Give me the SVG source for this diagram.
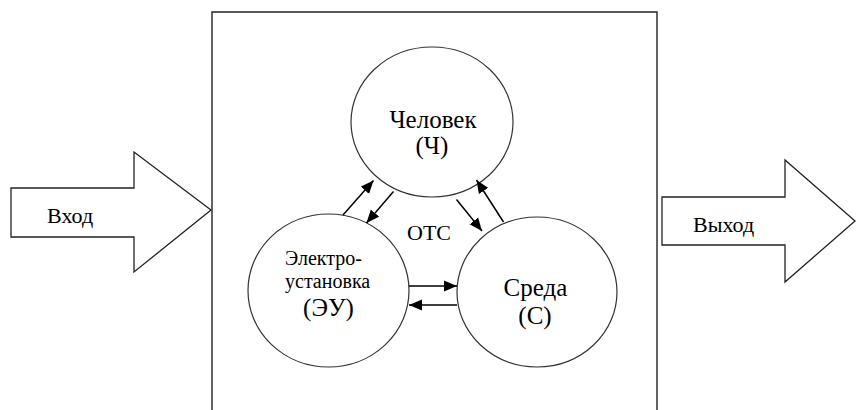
<svg xmlns="http://www.w3.org/2000/svg" width="856" height="410" viewBox="0 0 856 410">
  <style>
    .frame { fill: none; stroke: #222; stroke-width: 1.4; }
    .block { fill: #fff; stroke: #222; stroke-width: 1.3; stroke-linejoin: miter; }
    .node { fill: #fff; stroke: #333; stroke-width: 1.2; }
    .link { fill: none; stroke: #000; stroke-width: 1.5; marker-end: url(#head); }
    text { font-family: 'Liberation Serif', 'Times New Roman', serif; font-size: 22px; fill: #000; }
    .small { font-size: 20px; }
    .big { font-size: 25px; }
    .mid { text-anchor: middle; }
  </style>
  <defs>
    <marker id="head" markerUnits="userSpaceOnUse" markerWidth="14" markerHeight="12" refX="13" refY="6" orient="auto">
      <path d="M0,0.5 L13,6 L0,11.5 Z" fill="#000"/>
    </marker>
  </defs>

  <rect width="856" height="410" fill="#fff"/>

  <!-- system boundary (open at the bottom) -->
  <path id="system" class="frame" d="M212,412 V12 H657 V412"/>

  <!-- input block arrow -->
  <g id="input">
    <polygon class="block" points="11,188 134,188 134,152 211,210 134,272 134,237 11,237"/>
    <text x="47" y="223">Вход</text>
  </g>

  <!-- output block arrow -->
  <g id="output">
    <polygon class="block" points="662,197 785,197 785,160 855,221 785,282 785,245 662,245"/>
    <text x="693" y="232">Выход</text>
  </g>

  <g id="human">
    <ellipse class="node" cx="432" cy="122" rx="81" ry="75"/>
    <text class="mid big" x="433" y="128">Человек</text>
    <text class="mid big" x="432" y="154">(Ч)</text>
  </g>

  <g id="installation">
    <ellipse class="node" cx="328.5" cy="290.5" rx="80.5" ry="76.5"/>
    <text class="small" x="285" y="265">Электро-</text>
    <text class="small" x="285" y="288">установка</text>
    <text class="mid big" x="328.5" y="316">(ЭУ)</text>
  </g>

  <g id="environment">
    <ellipse class="node" cx="537" cy="292" rx="80" ry="75"/>
    <text class="mid big" x="535.5" y="296">Среда</text>
    <text class="mid big" x="535" y="324">(С)</text>
  </g>

  <text id="ots" x="407" y="240">ОТС</text>

  <!-- interactions -->
  <g id="links">
    <path class="link" d="M343,215 L373.5,180.5"/>
    <path class="link" d="M393.5,191.5 L366.5,223"/>
    <path class="link" d="M456.5,199.5 L482,231"/>
    <path class="link" d="M503.5,222 L476.5,180"/>
    <path class="link" d="M409,286 L457,286"/>
    <path class="link" d="M457,305 L409,305"/>
  </g>
</svg>
